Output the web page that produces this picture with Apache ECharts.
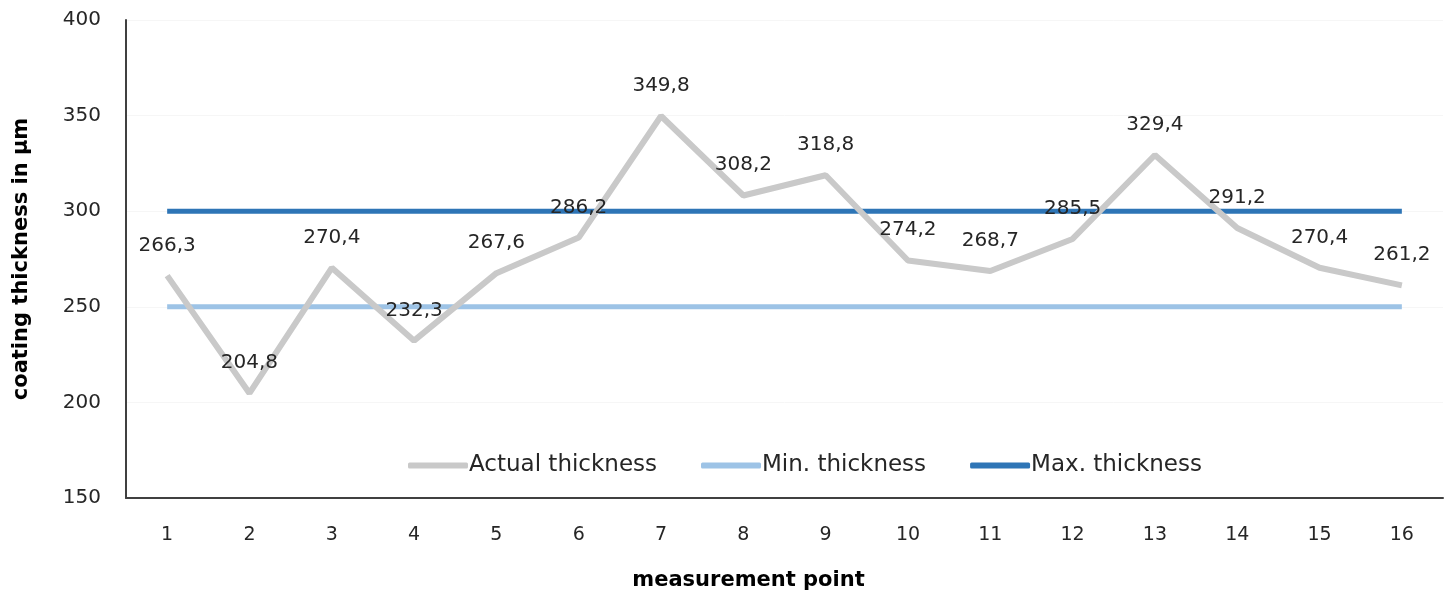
<!DOCTYPE html>
<html>
<head>
<meta charset="utf-8">
<script src="https://cdn.jsdelivr.net/npm/echarts@6/dist/echarts.min.js"></script>
<style>
  html, body { margin: 0; padding: 0; background: #fff; }
  #chart { width: 1450px; height: 596px; }
</style>
</head>
<body>
<div id="chart"></div>
<script>
// measurement points and thicknesses (µm)
var points = ['1', '2', '3', '4', '5', '6', '7', '8', '9', '10', '11', '12', '13', '14', '15', '16'];
var actual = [266.3, 204.8, 270.4, 232.3, 267.6, 286.2, 349.8, 308.2, 318.8, 274.2, 268.7, 285.5, 329.4, 291.2, 270.4, 261.2];
var minThick = [250, 250, 250, 250, 250, 250, 250, 250, 250, 250, 250, 250, 250, 250, 250, 250];
var maxThick = [300, 300, 300, 300, 300, 300, 300, 300, 300, 300, 300, 300, 300, 300, 300, 300];

var font = 'DejaVu Sans';
var myChart = echarts.init(document.getElementById('chart'));

var option = {
  animation: false,
  grid: { left: 126, right: 7, top: 20, bottom: 96 },
  legend: {
    left: 403,
    top: 449,
    itemWidth: 60,
    itemHeight: 6,
    itemGap: 44,
    icon: 'roundRect',
    textStyle: { fontFamily: font, fontSize: 23, color: '#262626', padding: [0, 0, 0, -4] },
    data: ['Actual thickness', 'Min. thickness', 'Max. thickness']
  },
  xAxis: {
    type: 'category',
    data: points,
    boundaryGap: true,
    name: 'measurement point',
    nameLocation: 'middle',
    nameGap: 72,
    nameTextStyle: { fontFamily: font, fontSize: 21, fontWeight: 'bold', color: '#000', padding: [0, 72, 0, 0] },
    axisLine: { lineStyle: { color: '#404040', width: 2 } },
    axisTick: { show: false },
    axisLabel: { fontFamily: font, fontSize: 19, color: '#262626', margin: 28 }
  },
  yAxis: {
    type: 'value',
    min: 150,
    max: 400,
    interval: 50,
    name: 'coating thickness in µm',
    nameLocation: 'middle',
    nameGap: 94,
    nameTextStyle: { fontFamily: font, fontSize: 21, fontWeight: 'bold', color: '#000' },
    axisLine: { show: true, lineStyle: { color: '#404040', width: 2 } },
    axisTick: { show: false },
    axisLabel: { fontFamily: font, fontSize: 20, color: '#262626', margin: 25 },
    splitLine: { lineStyle: { color: '#f6f6f6' } }
  },
  series: [
    {
      name: 'Actual thickness',
      type: 'line',
      data: actual,
      symbol: 'circle',
      symbolSize: 0.5,
      showSymbol: true,
      color: '#c9c9c9',
      lineStyle: { width: 6, color: '#c9c9c9' },
      z: 3,
      label: {
        show: true,
        position: 'top',
        distance: 20,
        fontFamily: font,
        fontSize: 20,
        color: '#262626',
        formatter: function (p) { return p.value.toFixed(1).replace('.', ','); }
      },
      labelLayout: { hideOverlap: false }
    },
    {
      name: 'Min. thickness',
      type: 'line',
      data: minThick,
      symbol: 'none',
      color: '#9dc3e6',
      lineStyle: { width: 5, color: '#9dc3e6' },
      z: 2
    },
    {
      name: 'Max. thickness',
      type: 'line',
      data: maxThick,
      symbol: 'none',
      color: '#2e75b6',
      lineStyle: { width: 5, color: '#2e75b6' },
      z: 2
    }
  ]
};

myChart.setOption(option);
</script>
</body>
</html>
